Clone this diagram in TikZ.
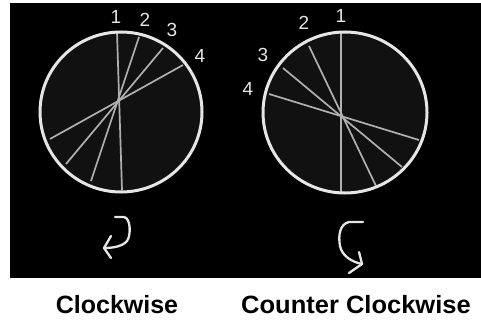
\documentclass[tikz,border=0pt]{standalone}
\usepackage{fontspec}
\setmainfont{Liberation Sans}
\usetikzlibrary{shapes.geometric}
\begin{document}
\begin{tikzpicture}[x=1pt,y=-1pt,
  discfill/.style={fill=disc,ellipse,inner sep=0pt},
  rim/.style={draw=rimgray,line width=3pt},
  spoke/.style={draw=spokegray,line width=1.7pt},
  num/.style={text=numgray,font=\fontsize{19}{19}\selectfont,inner sep=0pt},
  curl/.style={draw=rimgray,line width=2.3pt,line cap=round,line join=round},
  caption/.style={font=\bfseries\fontsize{25}{25}\selectfont,inner sep=0pt,anchor=base}]
\definecolor{rimgray}{HTML}{E6E6E6}
\definecolor{spokegray}{HTML}{B0B0B0}
\definecolor{numgray}{HTML}{E6E6E6}
\definecolor{disc}{HTML}{111111}
\useasboundingbox (0,0) rectangle (481,321);
\fill[white] (0,0) rectangle (481,321);
\fill[black] (10,3.3) rectangle (481,278);
% left circle (clockwise)
\node[discfill,minimum width=162pt,minimum height=160pt] (cw) at (121,112) {};
\coordinate (a1) at (117,32);  \coordinate (b1) at (122,190);
\coordinate (a2) at (139,37);  \coordinate (b2) at (91,181);
\coordinate (a3) at (163,48);  \coordinate (b3) at (66,164);
\coordinate (a4) at (183,65);  \coordinate (b4) at (50,139);
\draw[spoke] (a1) -- (b1);
\draw[spoke] (a2) -- (b2);
\draw[spoke] (a3) -- (b3);
\draw[spoke] (a4) -- (b4);
\draw[rim] (cw.center) ellipse[x radius=81,y radius=80];
\node[num] (l1) at (116,17) {1};
\node[num] (l2) at (145,20) {2};
\node[num] (l3) at (172,30) {3};
\node[num] (l4) at (200,56) {4};
% right circle (counter clockwise)
\node[discfill,minimum width=164pt,minimum height=161pt] (ccw) at (345,112.5) {};
\coordinate (c1) at (341,33);  \coordinate (d1) at (341,193);
\coordinate (c2) at (309,46);  \coordinate (d2) at (376,186);
\coordinate (c3) at (283,68);  \coordinate (d3) at (402,167);
\coordinate (c4) at (269,94);  \coordinate (d4) at (419,140);
\draw[spoke] (c1) -- (d1);
\draw[spoke] (c2) -- (d2);
\draw[spoke] (c3) -- (d3);
\draw[spoke] (c4) -- (d4);
\draw[rim] (ccw.center) ellipse[x radius=82,y radius=80.5];
\node[num] (r1) at (341,16) {1};
\node[num] (r2) at (304,23) {2};
\node[num] (r3) at (263,55) {3};
\node[num] (r4) at (248,89) {4};
% rotation arrows
\coordinate (cwS) at (115,217);
\coordinate (cwT) at (104,248);
\draw[curl] (cwS) -- (124,217) .. controls (131,218) and (131,236) .. (127,241)
  .. controls (123,246) and (114,248) .. (cwT);
\draw[curl] (111,236) -- (cwT) -- (111,258);
\coordinate (ccS) at (363,222);
\coordinate (ccT) at (362,264);
\draw[curl] (ccS) -- (349,222) .. controls (340,224) and (338,235) .. (340,246)
  .. controls (342,256) and (352,262) .. (ccT);
\draw[curl] (359,252) -- (ccT) -- (349,273);
% captions
\node[caption] (t1) at (117,313) {Clockwise};
\node[caption,xscale=1.02] (t2) at (356,313) {Counter Clockwise};
\end{tikzpicture}
\end{document}
